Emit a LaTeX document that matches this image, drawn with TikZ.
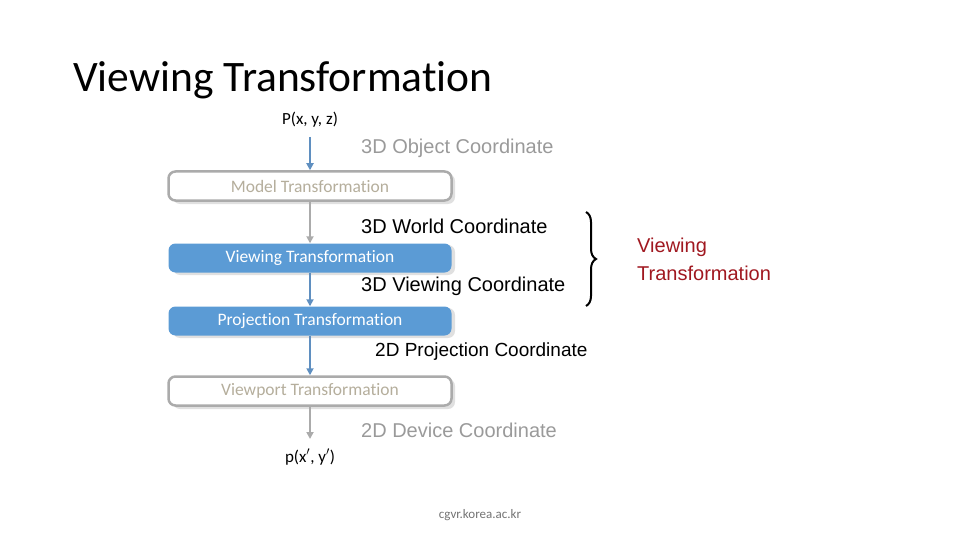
\documentclass[tikz,border=0pt]{standalone}
\usepackage{fontspec}
\setmainfont[Ligatures=NoCommon]{Carlito}
\newfontfamily\arialfont{Liberation Sans}
\usepackage{tikz}
\usetikzlibrary{arrows.meta,decorations.pathreplacing}

\definecolor{boxblue}{HTML}{5B9BD5}
\definecolor{arrowblue}{HTML}{5F8FC0}
\definecolor{fadegray}{HTML}{ABABAB}
\definecolor{fadetext}{HTML}{B5AE9C}
\definecolor{darkred}{HTML}{A01820}

\begin{document}
\begin{tikzpicture}[
    x=1pt, y=-1pt,
    >={Triangle[length=7pt,width=7pt]},
    stagebox/.style={rounded corners=7pt, minimum width=283pt, minimum height=29pt,
      font=\fontsize{17.5}{20}\selectfont, inner sep=0pt},
    activebox/.style={stagebox, fill=boxblue, text=white},
    fadedbox/.style={stagebox, draw=fadegray, line width=2.5pt, fill=white, text=fadetext},
    coordlabel/.style={font=\arialfont\fontsize{20}{23}\selectfont, anchor=west, inner sep=0pt},
    pointlabel/.style={font=\fontsize{17}{19}\selectfont, inner sep=0pt},
    bluearrow/.style={->, draw=arrowblue, line width=2pt},
    grayarrow/.style={->, draw=fadegray, line width=2pt},
  ]
  \useasboundingbox (0,0) rectangle (960,540);

  % title
  \node[font=\fontsize{43.5}{50}\selectfont, anchor=west, inner sep=0pt] (title) at (73,80) {Viewing Transformation};

  % shadows
  \foreach \yy in {186,257,320,391}
    \fill[black!12, rounded corners=7pt] (173,\yy-12) rectangle (455,\yy+18);

  % stages
  \node[fadedbox]  (model)      at (310,186) {Model Transformation};
  \node[activebox] (viewing)    at (310,258) {Viewing Transformation};
  \node[activebox] (projection) at (310,321) {Projection Transformation};
  \node[fadedbox]  (viewport)   at (310,391) {Viewport Transformation};

  % input / output points
  \node[pointlabel] (pin)  at (310,120) {P(x, y, z)};
  \node[pointlabel] (pout) at (310,457) {p(x$'$, y$'$)};
  \coordinate (a0) at (310,137);
  \coordinate (a5) at (310,439);

  % arrows
  \draw[bluearrow] (a0) -- (model.north);
  \draw[grayarrow] (model.south) -- (viewing.north);
  \draw[bluearrow] (viewing.south) -- (projection.north);
  \draw[bluearrow] (projection.south) -- (viewport.north);
  \draw[grayarrow] (viewport.south) -- (a5);

  % coordinate systems
  \node[coordlabel, text=fadegray!90!black] (objc)  at (361,148) {3D Object Coordinate};
  \node[coordlabel] (worldc) at (361,226) {3D World Coordinate};
  \node[coordlabel] (viewc)  at (361,286) {3D Viewing Coordinate};
  \node[coordlabel, font=\arialfont\fontsize{19}{22}\selectfont] (projc) at (375,352) {2D Projection Coordinate};
  \node[coordlabel, text=fadegray!90!black] (devc) at (361,430) {2D Device Coordinate};

  % brace
  \coordinate (btop) at (586,212);
  \coordinate (bbot) at (586,306);
  \draw[line width=2pt, decorate, decoration={brace, amplitude=10pt}] (btop) -- (bbot);
  \node[coordlabel, text=darkred, align=left, font=\arialfont\fontsize{20}{28}\selectfont] (vtlabel) at (637,259) {Viewing\\Transformation};

  % footer
  \node[font=\fontsize{13}{15}\selectfont, text=black!55] (footer) at (480,515) {cgvr.korea.ac.kr};
\end{tikzpicture}
\end{document}
